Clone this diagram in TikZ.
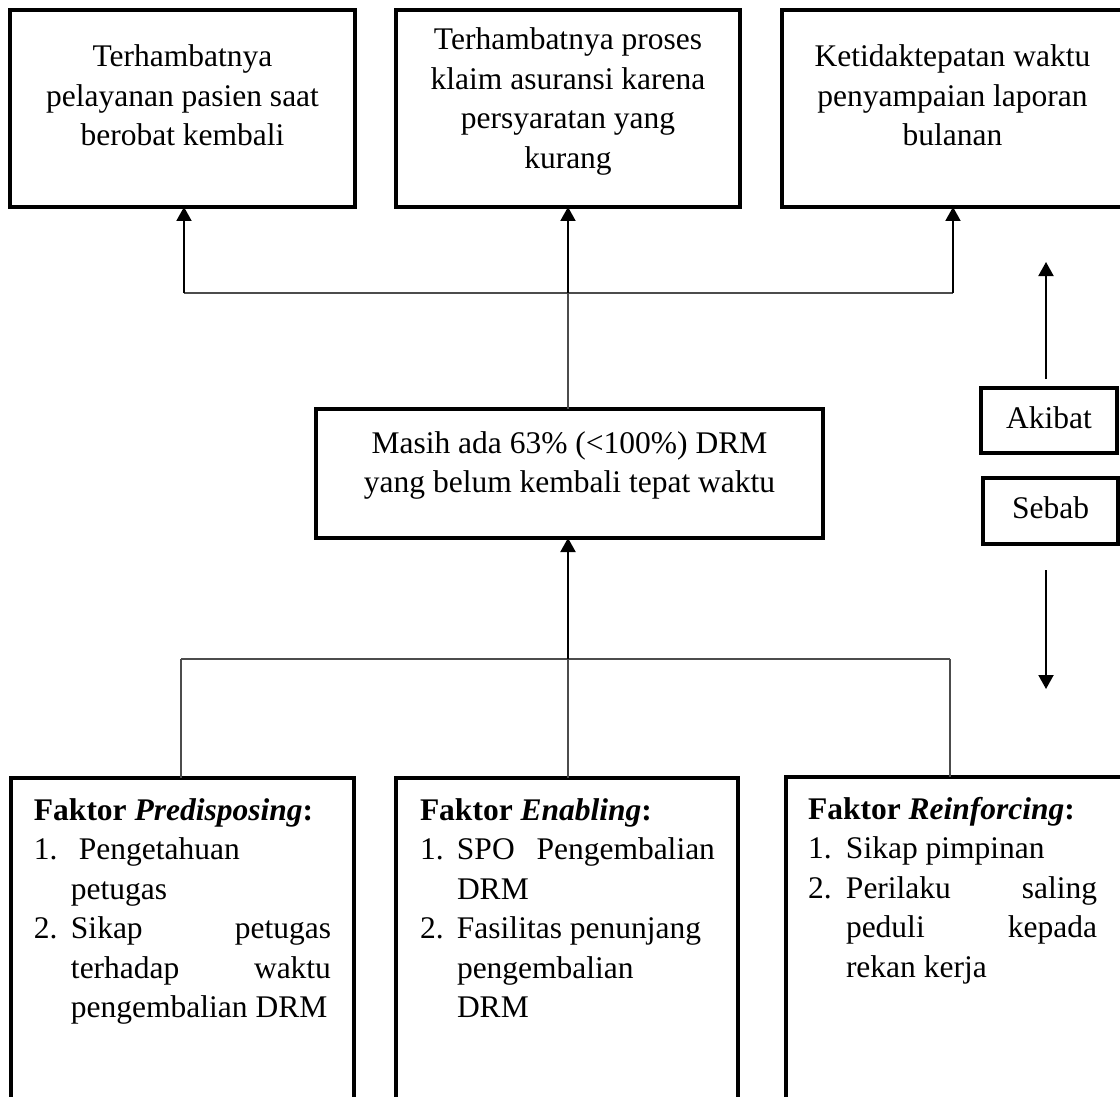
\documentclass[tikz,border=0pt]{standalone}
\usepackage{fontspec}
\setmainfont{Liberation Serif}
\usetikzlibrary{arrows.meta}
\begin{document}
\begin{tikzpicture}[x=1pt,y=-1pt,
  box/.style={draw, line width=3.5pt, inner sep=0pt, outer sep=0pt, anchor=north west},
  txt/.style={font=\fontsize{31.5}{39.5}\selectfont, inner sep=0pt, outer sep=0pt},
  arr/.style={line width=2pt, -{Triangle[width=15pt,length=14pt]}},
  thinline/.style={line width=1.3pt, draw=black!70}]
\clip (0,0) rectangle (1120,1097);
\fill[white] (0,0) rectangle (1120,1097);
% top boxes
\node[box, minimum width=345pt, minimum height=197pt] (b1) at (10,10) {};
\node[box, minimum width=344pt, minimum height=197pt] (b2) at (396,10) {};
\node[box, minimum width=342pt, minimum height=197pt] (b3) at (782,10) {};
% (anchor base = baseline of the last line)
\node[txt, align=center, anchor=base] (t1) at (182.5,146) {Terhambatnya\\pelayanan pasien saat\\berobat kembali};
\node[txt, align=center, anchor=base] (t2) at (568,168) {Terhambatnya proses\\klaim asuransi karena\\persyaratan yang\\kurang};
\node[txt, align=center, anchor=base] (t3) at (952.5,146) {Ketidaktepatan waktu\\penyampaian laporan\\bulanan};
% middle box
\node[box, minimum width=507pt, minimum height=129pt] (m) at (316,409) {};
\node[txt, align=center, anchor=base] (tm) at (569.5,492.5) {Masih ada 63\% (<100\%) DRM\\yang belum kembali tepat waktu};
% legend boxes
\node[box, minimum width=136pt, minimum height=65pt] (ak) at (981,388) {};
\node[txt, anchor=base] (tak) at (1049,428) {Akibat};
\node[box, minimum width=135pt, minimum height=66pt] (sb) at (983,478) {};
\node[txt, anchor=base] (tsb) at (1050.5,518) {Sebab};
% bottom boxes
\node[box, minimum width=343pt, minimum height=340pt] (p) at (11,778) {};
\node[box, minimum width=342pt, minimum height=340pt] (e) at (396,778) {};
\node[box, minimum width=345pt, minimum height=340pt] (r) at (786,777) {};
\node[txt, align=left, anchor=base west] (tp) at (34,1017.5) {\textbf{Faktor \textit{Predisposing}:}\\
\makebox[37pt][l]{1.}\hspace{8pt}Pengetahuan\\
\makebox[37pt][l]{}petugas\\
\makebox[37pt][l]{2.}\makebox[260pt][s]{Sikap petugas}\\
\makebox[37pt][l]{}\makebox[260pt][s]{terhadap waktu}\\
\makebox[37pt][l]{}pengembalian DRM};
\node[txt, align=left, anchor=base west] (te) at (420,1017.5) {\textbf{Faktor \textit{Enabling}:}\\
\makebox[37pt][l]{1.}\makebox[258pt][s]{SPO Pengembalian}\\
\makebox[37pt][l]{}DRM\\
\makebox[37pt][l]{2.}Fasilitas penunjang\\
\makebox[37pt][l]{}pengembalian\\
\makebox[37pt][l]{}DRM};
\node[txt, align=left, anchor=base west] (tr) at (808,977) {\textbf{Faktor \textit{Reinforcing}:}\\
\makebox[38pt][l]{1.}Sikap pimpinan\\
\makebox[38pt][l]{2.}\makebox[251pt][s]{Perilaku saling}\\
\makebox[38pt][l]{}\makebox[251pt][s]{peduli kepada}\\
\makebox[38pt][l]{}rekan kerja};
% top connectors
\coordinate (ht1) at (184,293);
\coordinate (ht2) at (568,293);
\coordinate (ht3) at (953,293);
\draw[thinline] (ht1) -- (ht3);
\draw[thinline] (ht2) -- (ht2 |- m.north);
\draw[arr] (ht1) -- (ht1 |- b1.south);
\draw[arr] (ht2) -- (ht2 |- b2.south);
\draw[arr] (ht3) -- (ht3 |- b3.south);
% bottom connectors
\coordinate (hb1) at (181,659);
\coordinate (hb2) at (568,659);
\coordinate (hb3) at (950,659);
\draw[thinline] (hb1) -- (hb3);
\draw[thinline] (hb1) -- (hb1 |- p.north);
\draw[thinline] (hb2) -- (hb2 |- e.north);
\draw[thinline] (hb3) -- (hb3 |- r.north);
\draw[arr] (hb2) -- (hb2 |- m.south);
% legend arrows
\coordinate (ua) at (1046,379);
\coordinate (uatip) at (1046,262);
\coordinate (da) at (1046,570);
\coordinate (datip) at (1046,689);
\draw[arr] (ua) -- (uatip);
\draw[arr] (da) -- (datip);
\end{tikzpicture}
\end{document}
